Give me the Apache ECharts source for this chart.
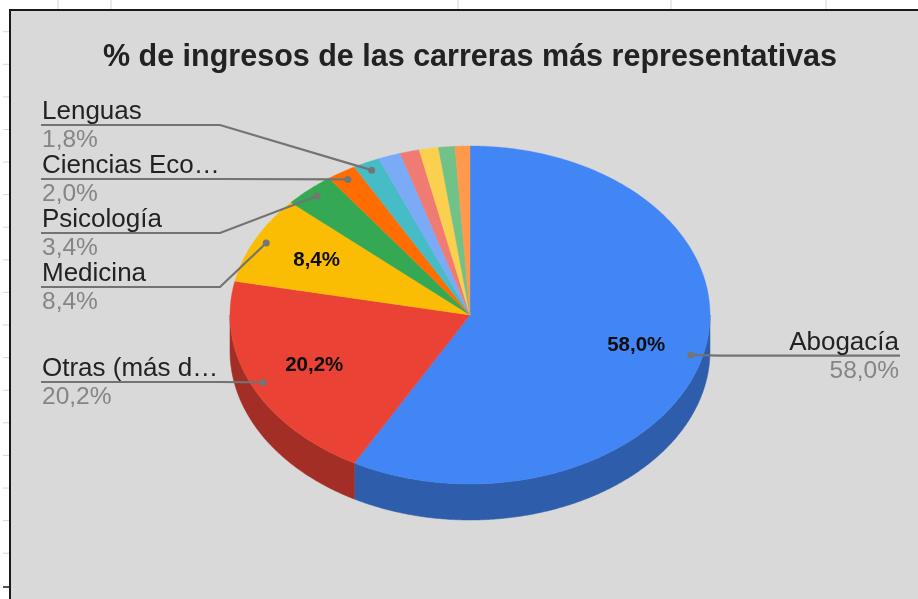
<!DOCTYPE html>
<html>
<head>
<meta charset="utf-8">
<style>html,body{margin:0;padding:0;background:#fff;overflow:hidden}#c{width:918px;height:599px;filter:blur(.5px)}</style>
<script src="https://cdn.jsdelivr.net/npm/echarts@6/dist/echarts.min.js"></script>
</head>
<body>
<div id="c"></div>
<script>
var titleText = '% de ingresos de las carreras más representativas';
var categories = ['Abogacía','Otras (más d…','Medicina','Psicología','Ciencias Eco…','Lenguas','','','','',''];
var values = [58.0,20.2,8.4,3.4,2.0,1.8,1.5,1.3,1.3,1.1,1.0];
var palette = ['#4285F4','#EA4335','#FBBC04','#34A853','#FF6D01','#46BDC6','#7BAAF7','#F07B72','#FCD04F','#71C287','#FF994D'];
var wallPalette = ['#2E5DAB','#A32E25'];
var labelLineY = [355.7,382,287,233,179,125];

var CX=470,CY=315,RX=240,RY=169,DEPTH=36,FONT='"Liberation Sans",Arial,sans-serif';
var total=values.reduce(function(a,b){return a+b},0);
var cum=[];values.reduce(function(a,v,i){cum[i]=a;return a+v},0);
function pt(deg,r,dy){var t=deg*Math.PI/180;return [CX+RX*r*Math.sin(t),CY+(dy||0)-RY*r*Math.cos(t)];}
function arc(a,b,dy){var n=Math.max(2,Math.ceil(Math.abs(b-a)*2)),p=[];for(var i=0;i<=n;i++)p.push(pt(a+(b-a)*i/n,1,dy));return p;}
function pct(v){return v.toFixed(1).replace('.',',')+'%';}

function renderSlice(params,api){
  var i=params.dataIndex,v=api.value(1),a=cum[i]/total*360,b=a+v/total*360,kids=[];
  var wa=Math.max(a,90),wb=Math.min(b,270);
  if(wb>wa){
    kids.push({type:'polygon',shape:{points:arc(wa,wb,0).concat(arc(wb,wa,DEPTH))},
      style:{fill:wallPalette[i],stroke:wallPalette[i],lineWidth:.5}});
  }
  kids.push({type:'polygon',shape:{points:[[CX,CY]].concat(arc(a,b,0))},
    style:{fill:palette[i],stroke:palette[i],lineWidth:.4}});
  if(v>5){
    var m=pt((a+b)/2,.715);
    kids.push({type:'text',style:{text:pct(v),x:m[0],y:m[1],align:'center',verticalAlign:'middle',
      font:'bold 20.5px '+FONT,fill:'#0d0d0d'}});
  }
  return {type:'group',children:kids};
}
function renderCallout(params,api){
  var i=params.dataIndex;
  if(labelLineY[i]===undefined) return {type:'group',children:[]};
  var v=api.value(1),mid=(cum[i]+v/2)/total*360,an=pt(mid,.95),y=labelLineY[i],right=an[0]>CX;
  var x0=right?900:41,elbow=right?719:220,tx=right?899:42,al=right?'right':'left';
  return {type:'group',children:[
    {type:'polyline',shape:{points:[[x0,y],[elbow,y],an]},style:{stroke:'#737373',lineWidth:2.2,fill:null}},
    {type:'circle',shape:{cx:an[0],cy:an[1],r:3.5},style:{fill:'#757575'}},
    {type:'text',style:{text:categories[i],x:tx,y:y,align:al,verticalAlign:'bottom',font:'26px '+FONT,fill:'#222222'}},
    {type:'text',style:{text:pct(v),x:tx,y:y+3,align:al,verticalAlign:'top',font:'24.5px '+FONT,fill:'#858585'}}
  ]};
}

var deco=[
  {type:'rect',shape:{x:10,y:10,width:930,height:620},style:{fill:'#D9D9D9',stroke:'#1a1a1a',lineWidth:2},z:0}
];
[58,111,458,671,826].forEach(function(x){deco.push({type:'line',shape:{x1:x,y1:0,x2:x,y2:9},style:{stroke:'#d4d4d4',lineWidth:1}});});
[31.7,64.3,96.9,129.5,162,194.6,227.2,259.8,292.4,325,357.6,390.2,422.8,455.4,488,520.6,553.2].forEach(function(y){
  deco.push({type:'line',shape:{x1:3,y1:y,x2:9,y2:y},style:{stroke:'#d4d4d4',lineWidth:1}});});
deco.push({type:'line',shape:{x1:3,y1:587,x2:10,y2:587},style:{stroke:'#1a1a1a',lineWidth:1.5}});

var rows=categories.map(function(c,i){return [c,values[i]];});
var chart=echarts.init(document.getElementById('c'),null,{renderer:'canvas'});
chart.setOption({
  animation:false,
  backgroundColor:'#fff',
  tooltip:{show:false},
  graphic:{elements:deco.map(function(d){d.silent=true;d.z=d.z||0;return d;})},
  title:{text:titleText,left:465,top:37,textAlign:'center',
    textStyle:{fontFamily:FONT,fontWeight:'bold',fontSize:30.5,color:'#222222'}},
  series:[
    {type:'custom',coordinateSystem:'none',silent:true,z:2,data:rows,renderItem:renderSlice,encode:{value:1}},
    {type:'custom',coordinateSystem:'none',silent:true,z:3,data:rows,renderItem:renderCallout,encode:{value:1}}
  ]
});
</script>
</body>
</html>
